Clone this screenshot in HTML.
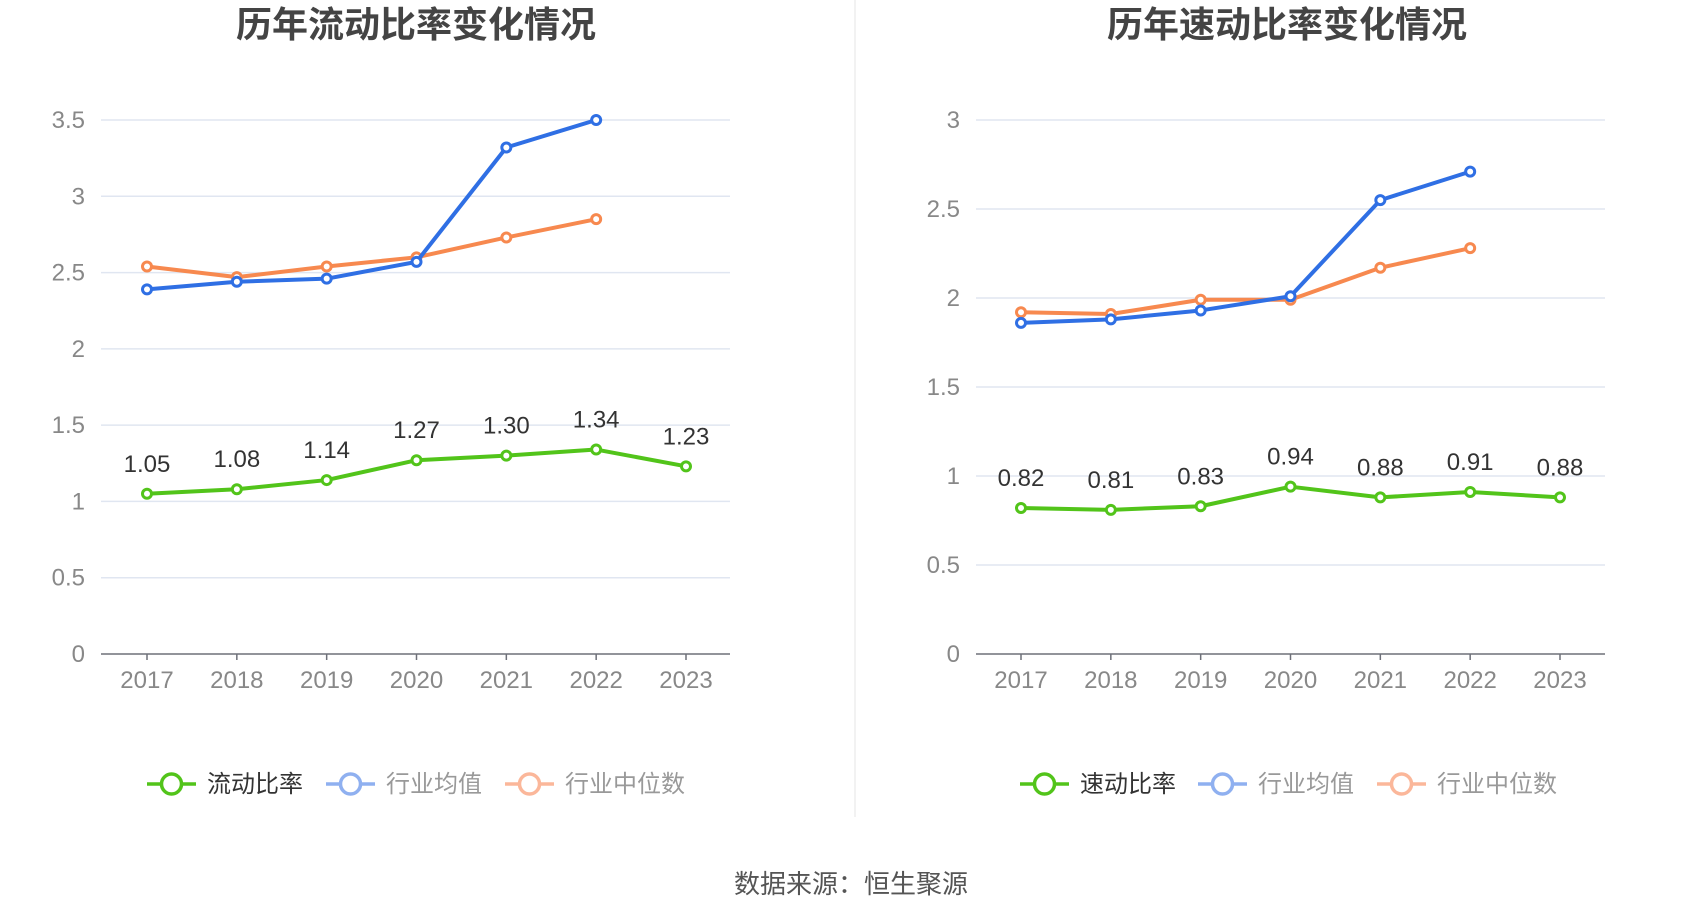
<!DOCTYPE html>
<html><head><meta charset="utf-8">
<style>
html,body{margin:0;padding:0;background:#fff;}
body{width:1700px;height:918px;overflow:hidden;font-family:"Liberation Sans","Noto Sans CJK SC",sans-serif;}
svg text{font-family:"Liberation Sans","Noto Sans CJK SC",sans-serif;}
</style></head>
<body>
<svg id="c" width="1700" height="918"></svg>
<script>
const years=["2017","2018","2019","2020","2021","2022","2023"];
const currentRatio=[1.05,1.08,1.14,1.27,1.30,1.34,1.23];
const currentAvg=[2.39,2.44,2.46,2.57,3.32,3.50];
const currentMedian=[2.54,2.47,2.54,2.60,2.73,2.85];
const quickRatio=[0.82,0.81,0.83,0.94,0.88,0.91,0.88];
const quickAvg=[1.86,1.88,1.93,2.01,2.55,2.71];
const quickMedian=[1.92,1.91,1.99,1.99,2.17,2.28];
const leftTicks=[0,0.5,1,1.5,2,2.5,3,3.5];
const rightTicks=[0,0.5,1,1.5,2,2.5,3];

const NS="http://www.w3.org/2000/svg";
const svg=document.getElementById('c');
function mk(tag,attrs,parent){const e=document.createElementNS(NS,tag);for(const k in attrs)e.setAttribute(k,attrs[k]);(parent||svg).appendChild(e);return e;}
const GREEN="#52c41a",BLUE="#2f6fe4",ORANGE="#f7894f";

function drawChart(cfg){
  const g=mk('g',{});
  
  
  const x0=cfg.axisL,x1=cfg.axisR,yTop=120,yBot=654;
  const maxV=cfg.ticks[cfg.ticks.length-1];
  const yS=v=>yBot-(v/maxV)*(yBot-yTop);
  const xS=i=>cfg.firstX+i*(cfg.lastX-cfg.firstX)/(years.length-1);
  const t=mk('text',{x:cfg.titleX,y:37,'text-anchor':'middle','font-size':36,'font-weight':'bold',fill:'#444'},g);
  t.textContent=cfg.title;
  
  
  cfg.ticks.forEach(v=>{
    const y=yS(v);
    if(v>0){const l=mk('line',{x1:x0,x2:x1,y1:y,y2:y,stroke:'#e0e6f1','stroke-width':1.5},g);
      
      }
    const tx=mk('text',{x:cfg.labelX,y:y+8,'text-anchor':'end','font-size':24,fill:'#888'},g);
    tx.textContent=String(v);
    
    
  });
  const ax=mk('line',{x1:x0,x2:x1,y1:yBot,y2:yBot,stroke:'#6e7079','stroke-width':1.5},g);
  
  
  years.forEach((yr,i)=>{
    const x=xS(i);
    mk('line',{x1:x,x2:x,y1:yBot,y2:yBot+6,stroke:'#6e7079','stroke-width':1.5},g);
    const tx=mk('text',{x:x,y:yBot+34,'text-anchor':'middle','font-size':24,fill:'#888'},g);
    tx.textContent=yr;
    
    
  });
  function series(vals,color,name,labels){
    const pts=vals.map((v,i)=>xS(i)+','+yS(v)).join(' ');
    const pl=mk('polyline',{points:pts,fill:'none',stroke:color,'stroke-width':4,'stroke-linejoin':'round'},g);
    
    
    vals.forEach((v,i)=>{
      const c=mk('circle',{cx:xS(i),cy:yS(v),r:4.5,fill:'#fff',stroke:color,'stroke-width':3},g);
      
      
      if(labels){
        const lt=mk('text',{x:xS(i),y:yS(v)-22,'text-anchor':'middle','font-size':24,fill:'#333'},g);
        lt.textContent=v.toFixed(2);
        
        
      }
    });
  }
  series(cfg.median,ORANGE,'industry-median',false);
  series(cfg.avg,BLUE,'industry-average',false);
  series(cfg.main,GREEN,cfg.mainName,true);
  const items=[[cfg.mainLabel,GREEN,'#333',cfg.leg[0]],['行业均值','#8fb0f0','#999',cfg.leg[1]],['行业中位数','#fbb79a','#999',cfg.leg[2]]];
  items.forEach(([lab,col,tc,lx])=>{
    const lg=mk('g',{},g);
    
    
    mk('line',{x1:lx,x2:lx+49,y1:784,y2:784,stroke:col,'stroke-width':3.5},lg);
    mk('circle',{cx:lx+24.5,cy:784,r:10,fill:'#fff',stroke:col,'stroke-width':3.5},lg);
    const tt=mk('text',{x:lx+60,y:792,'font-size':24,fill:tc},lg);
    tt.textContent=lab;
  });
}
drawChart({name:'current-ratio-chart',title:'历年流动比率变化情况',titleX:416,axisL:101,axisR:730,labelX:85,firstX:147,lastX:686,ticks:leftTicks,main:currentRatio,avg:currentAvg,median:currentMedian,mainName:'current-ratio',mainLabel:'流动比率',leg:[147,326,505]});
drawChart({name:'quick-ratio-chart',title:'历年速动比率变化情况',titleX:1287,axisL:976,axisR:1605,labelX:960,firstX:1021,lastX:1560,ticks:rightTicks,main:quickRatio,avg:quickAvg,median:quickMedian,mainName:'quick-ratio',mainLabel:'速动比率',leg:[1020,1198,1377]});
const dv=mk('line',{x1:855,x2:855,y1:0,y2:817,stroke:'#eeeeee','stroke-width':1.5});


const src=mk('text',{x:851,y:893,'text-anchor':'middle','font-size':26,fill:'#555'});
src.textContent='数据来源：恒生聚源';


</script>
</body></html>
